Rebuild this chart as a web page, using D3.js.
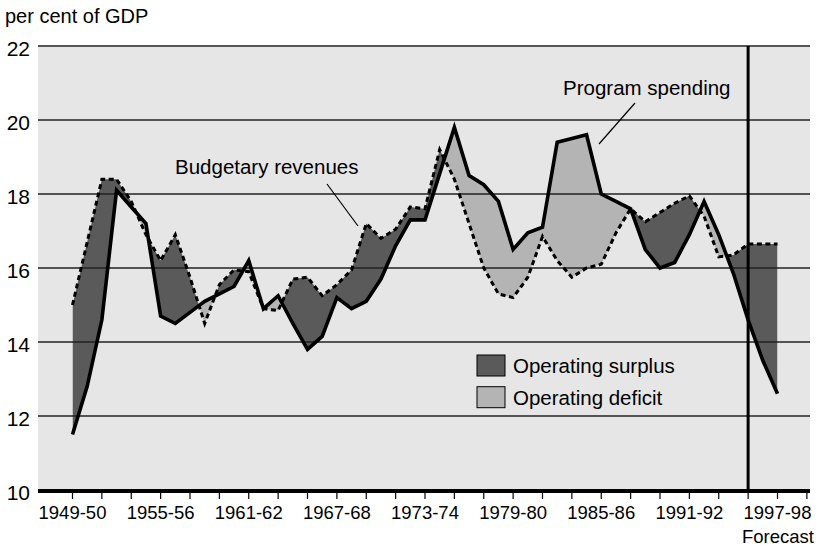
<!DOCTYPE html>
<html>
<head>
<meta charset="utf-8">
<script src="https://cdn.jsdelivr.net/npm/d3@7.9.0/dist/d3.min.js"></script>
<style>
  html, body { margin: 0; padding: 0; background: #fff; }
  svg { display: block; font-family: "Liberation Sans", Arial, sans-serif; }
</style>
</head>
<body>
<svg id="chart" width="818" height="550"></svg>
<script>
// fiscal years 1949-50 .. 1997-98 (index 0 = 1949-50)
const startYears = d3.range(1949, 1998);

// Program spending, per cent of GDP
const spending = [
  11.5, 12.8, 14.6, 18.1, 17.65, 17.2, 14.7, 14.5, 14.8, 15.1,
  15.3, 15.5, 16.2, 14.9, 15.25, 14.5, 13.8, 14.15, 15.2, 14.9,
  15.1, 15.7, 16.6, 17.3, 17.3, 18.55, 19.8, 18.5, 18.25, 17.8,
  16.5, 16.95, 17.1, 19.4, 19.5, 19.6, 18.0, 17.8, 17.6, 16.5,
  16.0, 16.15, 16.9, 17.8, 16.9, 15.85, 14.6, 13.5, 12.6
];

// Budgetary revenues, per cent of GDP
const revenues = [
  15.0, 16.7, 18.4, 18.4, 17.8, 16.9, 16.2, 16.9, 15.75, 14.5,
  15.55, 15.95, 15.9, 14.9, 14.85, 15.7, 15.75, 15.25, 15.55, 15.95,
  17.2, 16.8, 17.05, 17.65, 17.6, 19.2, 18.4, 17.2, 16.0, 15.3,
  15.2, 15.75, 16.85, 16.2, 15.75, 16.0, 16.1, 16.95, 17.6, 17.25,
  17.5, 17.75, 17.95, 17.4, 16.3, 16.35, 16.65, 16.65, 16.65
];

const yTicks = [10, 12, 14, 16, 18, 20, 22];
const labelYears = [1949, 1955, 1961, 1967, 1973, 1979, 1985, 1991, 1997];
const forecastStart = 1995;

const data = startYears.map((yr, i) => ({ yr, spend: spending[i], rev: revenues[i] }));
const fmtYear = yr => `${yr}-${String((yr + 1) % 100).padStart(2, '0')}`;

const svg = d3.select("#chart");
const plotLeft = 38, plotRight = 810, plotTop = 46, plotBottom = 490;

const x = d3.scaleLinear().domain([1949, 1997]).range([72.5, 777.5]);
const y = d3.scaleLinear().domain([10, 22]).range([plotBottom, plotTop]);

// plot background
svg.append("rect")
  .attr("x", plotLeft).attr("y", plotTop)
  .attr("width", plotRight - plotLeft).attr("height", plotBottom - plotTop)
  .attr("fill", "#e6e6e6");

// clip regions above / below the spending line
const defs = svg.append("defs");
defs.append("clipPath").attr("id", "clip-above")
  .append("path")
  .attr("d", d3.area().x(d => x(d.yr)).y0(plotTop).y1(d => y(d.spend))(data));
defs.append("clipPath").attr("id", "clip-below")
  .append("path")
  .attr("d", d3.area().x(d => x(d.yr)).y0(plotBottom).y1(d => y(d.spend))(data));

const between = d3.area()
  .x(d => x(d.yr))
  .y0(d => y(d.spend))
  .y1(d => y(d.rev));

// surplus: revenues above spending
svg.append("path")
  .attr("d", between(data))
  .attr("clip-path", "url(#clip-above)")
  .attr("fill", "#5a5a5a");

// deficit: spending above revenues
svg.append("path")
  .attr("d", between(data))
  .attr("clip-path", "url(#clip-below)")
  .attr("fill", "#b4b4b4");

// horizontal gridlines
svg.append("g")
  .selectAll("line")
  .data(yTicks.filter(t => t > 10))
  .join("line")
  .attr("x1", plotLeft).attr("x2", plotRight)
  .attr("y1", d => y(d)).attr("y2", d => y(d))
  .attr("stroke", d => d === 22 ? "#555" : "#222")
  .attr("stroke-width", d => d === 22 ? 2 : 1.4);

// y labels
svg.append("g")
  .selectAll("text")
  .data(yTicks)
  .join("text")
  .attr("x", 30)
  .attr("y", d => y(d) + 10)
  .attr("text-anchor", "end")
  .attr("font-size", 21)
  .attr("fill", "#000")
  .text(d => d);

svg.append("text")
  .attr("x", 5).attr("y", 23)
  .attr("font-size", 20)
  .text("per cent of GDP");

// data lines
svg.append("path")
  .datum(data)
  .attr("fill", "none")
  .attr("stroke", "#000")
  .attr("stroke-width", 3)
  .attr("stroke-dasharray", "5,3.5")
  .attr("d", d3.line().x(d => x(d.yr)).y(d => y(d.rev)));

svg.append("path")
  .datum(data)
  .attr("fill", "none")
  .attr("stroke", "#000")
  .attr("stroke-width", 3.6)
  .attr("stroke-linejoin", "miter")
  .attr("d", d3.line().x(d => x(d.yr)).y(d => y(d.spend)));

// forecast divider
svg.append("line")
  .attr("x1", x(forecastStart)).attr("x2", x(forecastStart))
  .attr("y1", plotTop).attr("y2", plotBottom)
  .attr("stroke", "#000")
  .attr("stroke-width", 3);

// x axis
const xAxis = svg.append("g").attr("transform", `translate(0,${plotBottom + 1})`);
xAxis.append("line")
  .attr("x1", plotLeft).attr("x2", plotRight)
  .attr("stroke", "#000").attr("stroke-width", 4);
xAxis.selectAll("line.tick")
  .data(d3.range(1949, 2000, 2))
  .join("line")
  .attr("class", "tick")
  .attr("x1", d => x(d)).attr("x2", d => x(d))
  .attr("y1", 2).attr("y2", 8)
  .attr("stroke", "#000").attr("stroke-width", 1.2);
xAxis.selectAll("text")
  .data(labelYears)
  .join("text")
  .attr("x", d => x(d))
  .attr("y", 28)
  .attr("text-anchor", "middle")
  .attr("font-size", 18.5)
  .text(d => fmtYear(d));

svg.append("text")
  .attr("x", 814).attr("y", 543)
  .attr("text-anchor", "end")
  .attr("font-size", 18.5)
  .text("Forecast");

// annotations
svg.append("text")
  .attr("x", 175).attr("y", 174)
  .attr("font-size", 20.5)
  .text("Budgetary revenues");
svg.append("line")
  .attr("x1", 327).attr("y1", 184).attr("x2", 358).attr("y2", 226)
  .attr("stroke", "#000").attr("stroke-width", 1.2);

svg.append("text")
  .attr("x", 563).attr("y", 95)
  .attr("font-size", 20.5)
  .text("Program spending");
svg.append("line")
  .attr("x1", 635).attr("y1", 103).attr("x2", 599).attr("y2", 144)
  .attr("stroke", "#000").attr("stroke-width", 1.2);

// legend
const legendItems = [
  { label: "Operating surplus", color: "#5a5a5a" },
  { label: "Operating deficit", color: "#b4b4b4" }
];
const legend = svg.append("g").attr("transform", "translate(477,355)");
legendItems.forEach((d, i) => {
  legend.append("rect")
    .attr("x", 0).attr("y", i * 31.7)
    .attr("width", 28).attr("height", 21)
    .attr("fill", d.color)
    .attr("stroke", "#000").attr("stroke-width", 1);
  legend.append("text")
    .attr("x", 36).attr("y", i * 31.7 + 18)
    .attr("font-size", 20.5)
    .text(d.label);
});
</script>
</body>
</html>
